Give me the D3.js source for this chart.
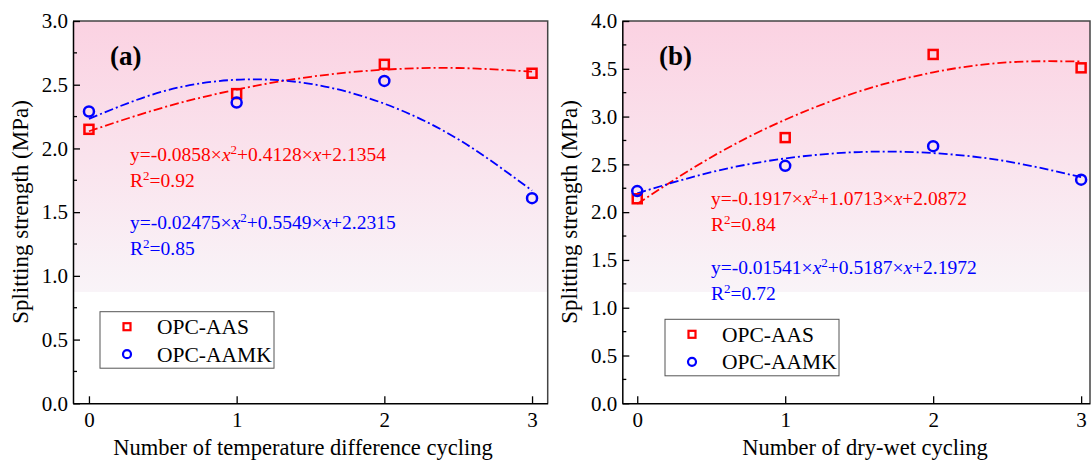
<!DOCTYPE html>
<html>
<head>
<meta charset="utf-8">
<script src="https://cdn.jsdelivr.net/npm/d3@7"></script>
<style>
  body { margin: 0; background: #fff; }
  svg text { font-family: 'Liberation Serif', 'Times New Roman', Times, serif; }
</style>
</head>
<body>
<svg id="chart" width="1091" height="462"></svg>
<script>
// cycles on the x axis
const cycles = [0, 1, 2, 3];

// (a) temperature difference cycling
const aAAS = [2.15, 2.43, 2.66, 2.59];
const aAAMK = [2.29, 2.36, 2.53, 1.61];
// (b) dry-wet cycling
const bAAS = [2.14, 2.78, 3.65, 3.51];
const bAAMK = [2.22, 2.485, 2.69, 2.34];

// fitted trend lines, every half cycle
const fitX = [0, 0.5, 1, 1.5, 2, 2.5, 3];
const aFitAAS = [2.135, 2.320, 2.462, 2.562, 2.618, 2.631, 2.602];
const aFitAAMK = [2.232, 2.447, 2.539, 2.507, 2.351, 2.072, 1.669];
const bFitAAS = [2.087, 2.575, 2.967, 3.263, 3.463, 3.567, 3.576];
const bFitAAMK = [2.197, 2.418, 2.562, 2.629, 2.618, 2.531, 2.366];

const aTicksY = [0, 0.5, 1.0, 1.5, 2.0, 2.5, 3.0];
const bTicksY = [0, 0.5, 1.0, 1.5, 2.0, 2.5, 3.0, 3.5, 4.0];

const FONT = "'Liberation Serif', 'Times New Roman', Times, serif";
const svg = d3.select('#chart').attr('font-family', FONT);
const red = '#ff0000', blue = '#0000ff';

const defs = svg.append('defs');
const grad = defs.append('linearGradient')
  .attr('id', 'bg').attr('x1', 0).attr('y1', 0).attr('x2', 0).attr('y2', 1);
grad.append('stop').attr('offset', '0%').attr('stop-color', '#fbd2e2');
grad.append('stop').attr('offset', '71%').attr('stop-color', '#f9f4f8');
grad.append('stop').attr('offset', '71%').attr('stop-color', '#ffffff');
grad.append('stop').attr('offset', '100%').attr('stop-color', '#ffffff');

function panel(cfg) {
  const x = d3.scaleLinear().domain(cfg.xDomain).range([cfg.left, cfg.right]);
  const y = d3.scaleLinear().domain(cfg.yDomain).range([403.3, 21]);
  const g = svg.append('g');

  g.append('rect')
    .attr('x', cfg.left).attr('y', 21)
    .attr('width', cfg.right - cfg.left).attr('height', 403.3 - 21)
    .attr('fill', 'url(#bg)');

  // frame top/right
  g.append('path')
    .attr('d', `M${cfg.left},21H${cfg.right}V403.3`)
    .attr('fill', 'none').attr('stroke', '#444').attr('stroke-width', 1.5);

  const yAxis = g.append('g')
    .attr('transform', `translate(${cfg.left},0)`)
    .call(d3.axisLeft(y).tickValues(cfg.ticksY).tickFormat(d3.format('.1f')).tickSizeInner(-7).tickSizeOuter(0).tickPadding(5));
  // minor ticks
  const minor = cfg.ticksY.slice(0, -1).map(v => v + 0.25);
  yAxis.selectAll('.minor').data(minor).enter().append('line')
    .attr('class', 'minor')
    .attr('x1', 0).attr('x2', 4)
    .attr('y1', d => y(d)).attr('y2', d => y(d))
    .attr('stroke', '#000').attr('stroke-width', 1.3);

  const xAxis = g.append('g')
    .attr('transform', 'translate(0,403.3)')
    .call(d3.axisBottom(x).tickValues(cycles).tickFormat(d3.format('d')).tickSizeInner(-7).tickSizeOuter(0).tickPadding(9));

  [xAxis, yAxis].forEach(ax => {
    ax.attr('font-family', FONT);
    ax.select('.domain').attr('stroke', '#000').attr('stroke-width', 1.5);
    ax.selectAll('.tick line').attr('stroke', '#000').attr('stroke-width', 1.3);
    ax.selectAll('.tick text').attr('font-size', 21).attr('fill', '#000');
  });

  // fit lines
  const line = d3.line().x((d, i) => x(fitX[i])).y(d => y(d)).curve(d3.curveNatural);
  [[cfg.fitAAS, red], [cfg.fitAAMK, blue]].forEach(([vals, c]) => {
    g.append('path').attr('d', line(vals))
      .attr('fill', 'none').attr('stroke', c).attr('stroke-width', 1.8)
      .attr('stroke-dasharray', '9,3,2,3');
  });

  // markers
  g.selectAll('.sq').data(cfg.aas).enter().append('rect')
    .attr('x', (d, i) => x(cycles[i]) - 4.5).attr('y', d => y(d) - 4.5)
    .attr('width', 9).attr('height', 9)
    .attr('fill', 'none').attr('stroke', red).attr('stroke-width', 2.5);
  g.selectAll('.ci').data(cfg.aamk).enter().append('circle')
    .attr('cx', (d, i) => x(cycles[i])).attr('cy', d => y(d)).attr('r', 5)
    .attr('fill', 'none').attr('stroke', blue).attr('stroke-width', 2.5);

  // panel label
  g.append('text').attr('x', cfg.labelX).attr('y', 65)
    .attr('font-size', 27).attr('font-weight', 'bold').text(cfg.label);

  // equations
  cfg.eqs.forEach(e => {
    const t = g.append('text').attr('x', e.x).attr('y', e.y).attr('font-size', 19.5).attr('fill', e.color);
    t.append('tspan').text(`y=${e.c[0]}×`);
    t.append('tspan').attr('font-style', 'italic').text('x');
    t.append('tspan').attr('font-size', 13).attr('dy', -7.5).text('2');
    t.append('tspan').attr('dy', 7.5).text(`+${e.c[1]}×`);
    t.append('tspan').attr('font-style', 'italic').text('x');
    t.append('tspan').text(`+${e.c[2]}`);
    const r = g.append('text').attr('x', e.x).attr('y', e.y + 26).attr('font-size', 19.5).attr('fill', e.color);
    r.append('tspan').text('R');
    r.append('tspan').attr('font-size', 13).attr('dy', -7.5).text('2');
    r.append('tspan').attr('dy', 7.5).text(`=${e.r2}`);
  });

  // legend
  const L = cfg.legend;
  g.append('rect').attr('x', L.x).attr('y', L.y).attr('width', 174).attr('height', 56.5)
    .attr('fill', '#fff').attr('stroke', '#555').attr('stroke-width', 1);
  g.append('rect').attr('x', L.x + 23.5).attr('y', L.y + 11.5).attr('width', 7).attr('height', 7)
    .attr('fill', 'none').attr('stroke', red).attr('stroke-width', 2.2);
  g.append('circle').attr('cx', L.x + 27).attr('cy', L.y + 42.5).attr('r', 4)
    .attr('fill', 'none').attr('stroke', blue).attr('stroke-width', 2.2);
  g.append('text').attr('x', L.x + 57).attr('y', L.y + 22.5).attr('font-size', 21.5).text('OPC-AAS');
  g.append('text').attr('x', L.x + 57).attr('y', L.y + 50).attr('font-size', 21.5).text('OPC-AAMK');

  // axis titles
  g.append('text').attr('x', cfg.xTitleX).attr('y', 455)
    .attr('text-anchor', 'middle').attr('font-size', 22.5).text(cfg.xTitle);
  g.append('text')
    .attr('transform', `translate(${cfg.left - 45},212) rotate(-90)`)
    .attr('text-anchor', 'middle').attr('font-size', 23).text('Splitting strength (MPa)');
}

panel({
  left: 73, right: 547.7, xDomain: [-0.108, 3.106], yDomain: [0, 3], ticksY: aTicksY,
  aas: aAAS, aamk: aAAMK, fitAAS: aFitAAS, fitAAMK: aFitAAMK,
  label: '(a)', labelX: 110,
  eqs: [
    { x: 130, y: 161, color: red, c: ['-0.0858', '0.4128', '2.1354'], r2: '0.92' },
    { x: 130, y: 229, color: blue, c: ['-0.02475', '0.5549', '2.2315'], r2: '0.85' }
  ],
  legend: { x: 100, y: 311.7 },
  xTitle: 'Number of temperature difference cycling', xTitleX: 303
});

panel({
  left: 622.3, right: 1090, xDomain: [-0.101, 3.06], yDomain: [0, 4], ticksY: bTicksY,
  aas: bAAS, aamk: bAAMK, fitAAS: bFitAAS, fitAAMK: bFitAAMK,
  label: '(b)', labelX: 659,
  eqs: [
    { x: 711, y: 205, color: red, c: ['-0.1917', '1.0713', '2.0872'], r2: '0.84' },
    { x: 711, y: 274, color: blue, c: ['-0.01541', '0.5187', '2.1972'], r2: '0.72' }
  ],
  legend: { x: 665, y: 319.3 },
  xTitle: 'Number of dry-wet cycling', xTitleX: 865
});
</script>
</body>
</html>
